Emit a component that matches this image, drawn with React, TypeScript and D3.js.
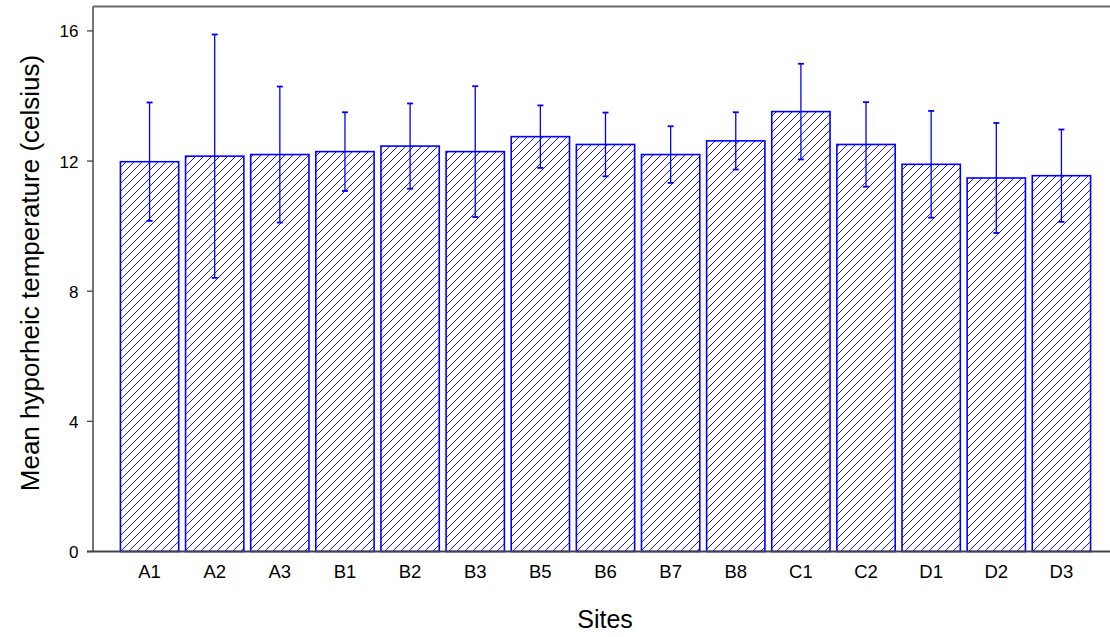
import * as d3 from 'd3'

// site names, mean hyporheic temperature and half-length of the error bars
const sites = ['A1', 'A2', 'A3', 'B1', 'B2', 'B3', 'B5', 'B6', 'B7', 'B8', 'C1', 'C2', 'D1', 'D2', 'D3']
const meanTemp = [11.98, 12.15, 12.2, 12.29, 12.46, 12.29, 12.75, 12.51, 12.2, 12.62, 13.52, 12.51, 11.9, 11.48, 11.55]
const errTemp = [1.82, 3.74, 2.09, 1.21, 1.31, 2.01, 0.96, 0.98, 0.87, 0.88, 1.47, 1.3, 1.64, 1.69, 1.42]
const yTicks = [0, 4, 8, 12, 16]

const width = 1110
const height = 637
const left = 93
const right = 1110
const top = 6.5
const bottom = 551.5
const hatchGap = 8

const App = () => {
  const x = d3.scaleBand<string>()
    .domain(sites)
    .range([117, 1094])
    .paddingInner(0.105)
    .paddingOuter(0.0525)

  const y = d3.scaleLinear()
    .domain([0, 16.75])
    .range([bottom, top])

  const bw = x.bandwidth()
  const font = 'Liberation Sans, Arial, sans-serif'

  return (
    <svg width={width} height={height} style={{ position: 'absolute', left: 0, top: 0 }}>
      <defs>
        {sites.map((s, i) => (
          <clipPath key={s} id={`clip-${i}`}>
            <rect x={x(s)} y={y(meanTemp[i])} width={bw} height={bottom - y(meanTemp[i])} />
          </clipPath>
        ))}
      </defs>
      <rect width={width} height={height} fill="#fff" />

      {/* bars with diagonal hatching */}
      {sites.map((s, i) => {
        const x0 = x(s) ?? 0
        const yt = y(meanTemp[i])
        const start = Math.floor((x0 + yt) / hatchGap) * hatchGap
        const cs = d3.range(start, x0 + bw + bottom + hatchGap, hatchGap)
        return (
          <g key={s}>
            <g clipPath={`url(#clip-${i})`} stroke="#1a1aff" strokeWidth={1}>
              {cs.map((c) => (
                <line key={c} x1={c - bottom} y1={bottom} x2={c - yt} y2={yt} />
              ))}
            </g>
            <rect x={x0} y={yt} width={bw} height={bottom - yt} fill="none" stroke="#0000ff" strokeWidth={1.6} />
          </g>
        )
      })}

      {/* error bars */}
      {sites.map((s, i) => {
        const cx = (x(s) ?? 0) + bw / 2
        const hi = y(meanTemp[i] + errTemp[i])
        const lo = y(meanTemp[i] - errTemp[i])
        return (
          <g key={s} stroke="#0000ff" strokeWidth={1.3}>
            <line x1={cx} x2={cx} y1={hi} y2={lo} />
            <line x1={cx - 3} x2={cx + 3} y1={hi} y2={hi} strokeWidth={1.8} />
            <line x1={cx - 3} x2={cx + 3} y1={lo} y2={lo} strokeWidth={1.8} />
          </g>
        )
      })}

      {/* frame */}
      <line x1={left} x2={right} y1={top} y2={top} stroke="#6b6b6b" strokeWidth={2} />
      <line x1={left} x2={left} y1={top} y2={bottom} stroke="#444" strokeWidth={1.5} />
      <line x1={87} x2={right} y1={bottom} y2={bottom} stroke="#444" strokeWidth={1.8} />

      {/* y ticks */}
      {yTicks.map((t) => (
        <g key={t}>
          <line x1={87} x2={left} y1={y(t)} y2={y(t)} stroke="#444" strokeWidth={1.3} />
          <text x={78.5} y={y(t) + 6.5} textAnchor="end" fontSize={17} fontFamily={font} fill="#000">
            {t}
          </text>
        </g>
      ))}

      {/* x tick labels */}
      {sites.map((s) => (
        <text
          key={s}
          x={(x(s) ?? 0) + bw / 2}
          y={578}
          textAnchor="middle"
          fontSize={18.5}
          fontFamily={font}
          fill="#000"
        >
          {s}
        </text>
      ))}

      <text x={605} y={628} textAnchor="middle" fontSize={25} fontFamily={font} fill="#000">
        Sites
      </text>
      <text
        transform={`translate(39, 273) rotate(-90)`}
        textAnchor="middle"
        fontSize={26}
        fontFamily={font}
        fill="#000"
      >
        Mean hyporheic temperature (celsius)
      </text>
    </svg>
  )
}

export default App
